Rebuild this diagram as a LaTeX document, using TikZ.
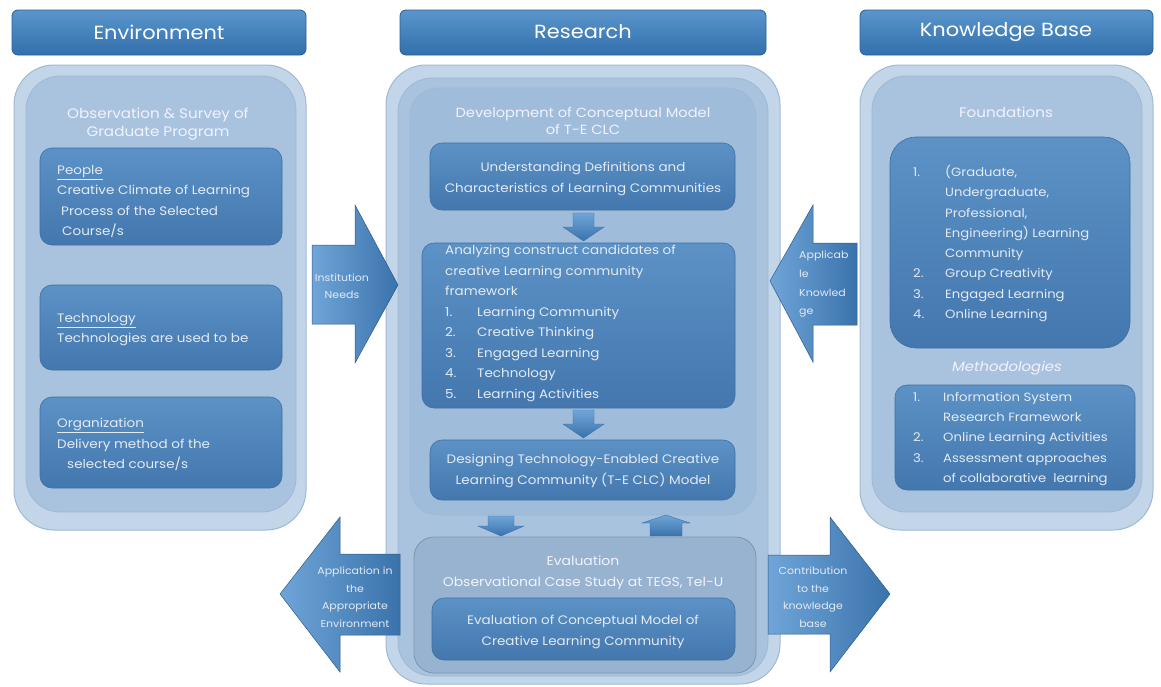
\documentclass[tikz,border=0pt]{standalone}
\usepackage{fontspec}
\setmainfont{Poppins}
\newfontfamily\cg[FakeStretch=1.1]{Poppins}
\definecolor{hdrtop}{HTML}{5A95CC}
\definecolor{hdrbot}{HTML}{3270AC}
\definecolor{hdrline}{HTML}{2B5E93}
\definecolor{rimfill}{HTML}{C3D5E8}
\definecolor{rimline}{HTML}{9FB9D4}
\definecolor{panfill}{HTML}{A9C3DE}
\definecolor{grpfill}{HTML}{9FBCDA}
\definecolor{boxtop}{HTML}{5C92C6}
\definecolor{boxbot}{HTML}{4377AE}
\definecolor{boxline}{HTML}{3E6FA2}
\definecolor{txtpale}{HTML}{E3EAF3}
\definecolor{arrA}{HTML}{6FA5D8}
\definecolor{arrB}{HTML}{3A72AB}
\tikzset{
  hdr/.style={rounded corners=6pt, top color=hdrtop, bottom color=hdrbot, draw=hdrline, line width=0.8pt},
  hdrtext/.style={text=white, font=\cg\fontsize{19}{24}\selectfont},
  rim/.style={rounded corners=40pt, fill=rimfill, draw=rimline, line width=1pt},
  pan/.style={rounded corners=34pt, fill=panfill, draw=rimline, line width=0.8pt},
  grp/.style={rounded corners=28pt, fill=grpfill, draw=rimline, line width=0.8pt},
  bx/.style={rounded corners=12pt, top color=boxtop, bottom color=boxbot, draw=boxline, line width=0.6pt},
  bigarrow/.style={left color=arrA, right color=arrB, draw=arrB!80!black, line width=0.5pt},
  smallarrow/.style={top color=arrA, bottom color=arrB, draw=arrB, line width=0.4pt},
  ttl/.style={text=white!95!blue, font=\cg\fontsize{13.8}{18}\selectfont, align=center, inner sep=0pt},
  btxt/.style={text=txtpale, font=\cg\fontsize{12.3}{20.5}\selectfont, inner sep=0pt},
  atxt/.style={text=txtpale, font=\cg\fontsize{10}{17.5}\selectfont, inner sep=0pt, align=center},
}
\begin{document}
\begin{tikzpicture}[x=1pt,y=-1pt]
\useasboundingbox[fill=white] (0,0) rectangle (1161,686);

% headers
\draw[hdr] (12,10) rectangle (306,55);
\node[hdrtext] (henv) at (159,32) {Environment};
\draw[hdr] (400,10) rectangle (766,55);
\node[hdrtext] (hres) at (583,32) {Research};
\draw[hdr] (860,10) rectangle (1153,55);
\node[hdrtext] (hkb) at (1006,32) {Knowledge Base};

% ===== left panel =====
\draw[rim] (14,65) rectangle (306,530);
\draw[pan] (26,76) rectangle (296,512);
\node[ttl] (envt) at (158,124) {Observation \& Survey of\\Graduate Program};

\draw[bx] (40,148) rectangle (282,245);
\node[btxt, anchor=north west, align=left] (people) at (57,165)
  {\underline{People}\\Creative Climate of Learning\\\hspace*{4pt}Process of the Selected\\\hspace*{5pt}Course/s};

\draw[bx] (40,285) rectangle (282,370);
\node[btxt, anchor=north west, align=left] (tech) at (57,313)
  {\underline{Technology}\\Technologies are used to be};

\draw[bx] (40,397) rectangle (282,488);
\node[btxt, anchor=north west, align=left] (org) at (57,418)
  {\underline{Organization}\\Delivery method of the\\\hspace*{10pt}selected course/s};

% ===== center panel =====
\draw[rim] (386,65) rectangle (780,684);
\draw[pan] (398,78) rectangle (768,676);
\draw[grp] (410,88) rectangle (756,515);
\node[ttl, font=\cg\fontsize{13.3}{17}\selectfont] (rest) at (583,121) {Development of Conceptual Model\\of T-E CLC};

\draw[bx] (430,143) rectangle (735,210);
\node[btxt, align=center] (und) at (583,179) {Understanding Definitions and\\Characteristics of Learning Communities};

\draw[bx] (422,243) rectangle (735,408);
\node[btxt, anchor=north west, align=left] (ana) at (445,245)
  {Analyzing construct candidates of\\creative Learning community\\framework\\
   \makebox[32pt][l]{1.}Learning Community\\\makebox[32pt][l]{2.}Creative Thinking\\\makebox[32pt][l]{3.}Engaged Learning\\\makebox[32pt][l]{4.}Technology\\\makebox[32pt][l]{5.}Learning Activities};

\draw[bx] (430,440) rectangle (735,500);
\node[btxt, align=center] (des) at (583,471) {Designing Technology-Enabled Creative\\Learning Community (T-E CLC) Model};

% small arrows
\draw[smallarrow] (573,213) -- (594,213) -- (594,227) -- (604,227) -- (583.5,241) -- (563,227) -- (573,227) -- cycle;
\draw[smallarrow] (573,410) -- (594,410) -- (594,424) -- (604,424) -- (583.5,438) -- (563,424) -- (573,424) -- cycle;
\draw[smallarrow] (488,516) -- (514,516) -- (514,526) -- (524,526) -- (501,536) -- (478,526) -- (488,526) -- cycle;
\draw[smallarrow] (650,536) -- (682,536) -- (682,523) -- (690,523) -- (666,515) -- (642,523) -- (650,523) -- cycle;

\draw[rounded corners=20pt, fill=grpfill!95!black, draw=rimline!80!black, line width=0.8pt] (414,537) rectangle (756,673);
\node[ttl, font=\cg\fontsize{12.7}{21}\selectfont] (evt) at (583,573) {Evaluation\\Observational Case Study at TEGS, Tel-U};
\draw[bx] (432,598) rectangle (735,660);
\node[btxt, align=center] (evb) at (583,632) {Evaluation of Conceptual Model of\\Creative Learning Community};

% ===== right panel =====
\draw[rim] (860,65) rectangle (1153,530);
\draw[pan] (872,76) rectangle (1142,512);
\node[ttl] (fnd) at (1006,112) {Foundations};
\draw[bx, rounded corners=26pt] (890,137) rectangle (1130,348);
\node[btxt, anchor=north west, align=left, font=\cg\fontsize{12}{20.3}\selectfont] (fitems) at (913,165)
  {\makebox[32pt][l]{1.}(Graduate,\\\hspace*{32pt}Undergraduate,\\\hspace*{32pt}Professional,\\\hspace*{32pt}Engineering) Learning\\\hspace*{32pt}Community\\
   \makebox[32pt][l]{2.}Group Creativity\\\makebox[32pt][l]{3.}Engaged Learning\\\makebox[32pt][l]{4.}Online Learning};
\node[ttl, font=\cg\itshape\fontsize{13.5}{21}\selectfont] (meth) at (1007,368) {Methodologies};
\draw[bx] (895,385) rectangle (1135,490);
\node[btxt, anchor=north west, align=left, font=\cg\fontsize{12}{20.3}\selectfont] (mitems) at (913,392)
  {\makebox[30pt][l]{1.}Information System\\\hspace*{30pt}Research Framework\\\makebox[30pt][l]{2.}Online Learning Activities\\\makebox[30pt][l]{3.}Assessment approaches\\\hspace*{30pt}of collaborative\ \ learning};

% ===== big arrows =====
% Institution Needs (right)
\draw[bigarrow] (312,245) -- (355,245) -- (355,205) -- (398,285) -- (355,363) -- (355,324) -- (312,324) -- cycle;
\node[atxt] (inst) at (342,286) {Institution\\Needs};
% Applicable Knowledge (left)
\draw[bigarrow] (857,243) -- (813,243) -- (813,205) -- (770,281) -- (813,362) -- (813,325) -- (857,325) -- cycle;
\begin{scope}
\clip (770,200) rectangle (857,330);
\node[atxt, align=left, anchor=north west, font=\cg\fontsize{10}{18.7}\selectfont] (appk) at (799,251) {Applicab\\le\\Knowled\\ge};
\end{scope}
% Application (left)
\draw[bigarrow] (400,554) -- (340,554) -- (340,517) -- (280,594) -- (340,672) -- (340,635) -- (400,635) -- cycle;
\node[atxt] (appl) at (355,597) {Application in\\the\\Appropriate\\Environment};
% Contribution (right)
\draw[bigarrow] (768,555) -- (830,555) -- (830,517) -- (890,594) -- (830,672) -- (830,634) -- (768,634) -- cycle;
\node[atxt] (contr) at (813,597) {Contribution\\to the\\knowledge\\base};
\end{tikzpicture}
\end{document}
